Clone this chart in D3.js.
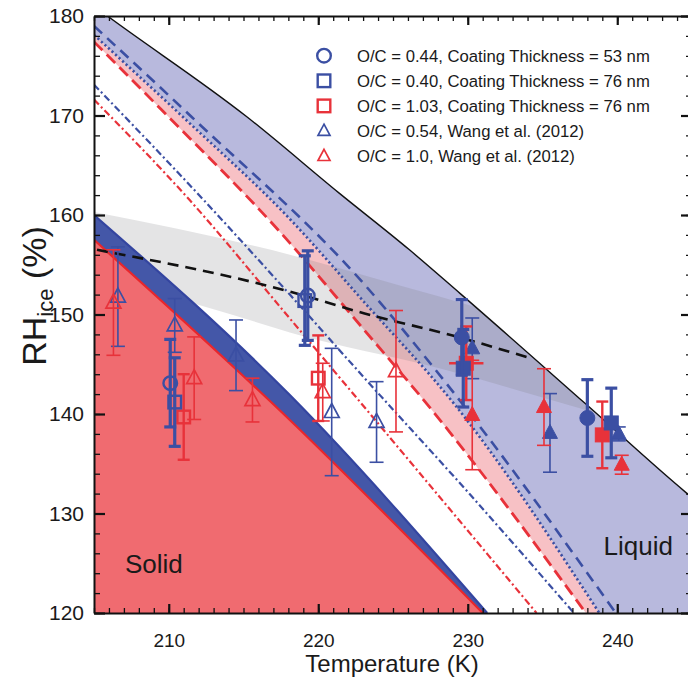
<!DOCTYPE html>
<html><head><meta charset="utf-8">
<script src="https://cdn.jsdelivr.net/npm/d3@7"></script>
<style>
body{margin:0;background:#fff}
svg{display:block}
text{font-family:Arial,"Liberation Sans",Helvetica,sans-serif;fill:#1a1a1a}
</style>
</head><body>
<svg id="c" width="688" height="678"></svg>
<script>
// ---------------- data ----------------
const xTicks = [210, 220, 230, 240];
const yTicks = [120, 130, 140, 150, 160, 170, 180];
const xMinor = d3.range(205, 246, 1);
const yMinor = d3.range(120, 181, 2);

// water saturation (upper limit of liquid region)
const waterSat = [[205.0,181.0],[205.9,180.0],[215.2,169.9],[221.4,162.2],[226.1,156.5],[229.5,152.1],[237.9,141.0],[244.6,132.1],[245.0,131.6]];
// model lines
const blueDashed  = [[205,179.0],[211.5,169.9],[223.1,153.0],[228.5,143.2],[239.9,120]];
const blueDotted  = [[205,178.1],[211.2,169.5],[218.1,159.6],[223.1,151.2],[229.1,141.0],[238.8,120]];
const redDashed   = [[205,177.4],[209.5,170.6],[217.5,158.2],[223.1,148.4],[227.6,140.4],[237.9,120]];
const blueDashDot = [[205,173.1],[212.4,161.4],[218.1,152.0],[223.1,143.6],[230.1,132.0],[237.1,120]];
const redDashDot  = [[205,171.6],[211.4,161.5],[218.1,149.6],[234.6,120]];
// homogeneous freezing line and its uncertainty band
const freezeLine  = [[205.2,156.5],[218.1,152.3],[223.1,150.1],[229.45,147.7],[234.2,145.6]];
const grayUpper   = [[205,160.3],[218.1,156.0],[223.4,153.8],[228.1,151.8],[230.4,150.8],[238,147.3]];
const grayLower   = [[205,154.0],[214.3,149.95],[218.1,148.2],[228.1,144.6],[237.9,140.4],[240,139.5]];
// solid region boundaries
const redSolid  = [[205,157.5],[218.1,139.4],[231.0,120]];
const blueSolid = [[205,160.0],[218.1,141.9],[231.3,120]];

// measurements: [T, RH, error, filled(1/0), T error]
const blueCircle = [[210.1,143.1,4.4,0],[219.3,151.9,4.5,0],[229.6,147.7,3.8,1],[238.0,139.6,3.85,1]];
const blueSquare = [[210.4,141.2,4.45,0],[219.1,151.4,4.5,0],[229.7,144.6,3.9,1],[239.6,139.1,3.5,1]];
const redSquare  = [[211.0,139.7,4.3,0],[220.0,143.6,4.3,0],[229.9,145.1,3.7,1,1.15],[239.0,137.9,3.35,1]];
const blueTri    = [[206.6,151.8,5.0,0],[210.4,148.9,2.7,0],[214.5,145.9,3.55,0],[220.9,140.2,6.4,0],[223.9,139.2,4.05,0],[230.3,146.6,3.05,1],[235.5,138.1,3.95,1],[240.1,138.0,0.7,1]];
const redTri     = [[206.3,151.2,5.3,0],[211.7,143.6,4.15,0],[215.6,141.4,2.2,0],[220.3,142.2,2.9,0],[225.2,144.3,6.1,0],[230.3,139.9,5.5,1],[235.1,140.7,3.85,1],[240.3,134.9,0.95,1]];

const legendLabels = [
  "O/C = 0.44, Coating Thickness = 53 nm",
  "O/C = 0.40, Coating Thickness = 76 nm",
  "O/C = 1.03, Coating Thickness = 76 nm",
  "O/C = 0.54, Wang et al. (2012)",
  "O/C = 1.0, Wang et al. (2012)"
];

// ---------------- drawing ----------------
const BLUE = "#3b4fa3", RED = "#e8323a";
const svg = d3.select("#c");
const x = d3.scaleLinear().domain([205, 245]).range([94, 692]);
const y = d3.scaleLinear().domain([120, 180]).range([613, 16]);

const line = d3.line().x(d => x(d[0])).y(d => y(d[1])).curve(d3.curveMonotoneX);
const band = (a, b) => line(a) + line(b.slice().reverse()).replace(/^M/, "L") + "Z";

const defs = svg.append("defs");
defs.append("clipPath").attr("id", "plot").append("rect")
  .attr("x", x(205)).attr("y", y(180)).attr("width", x(245) - x(205)).attr("height", y(120) - y(180));
defs.append("clipPath").attr("id", "below").append("path")
  .attr("d", line(waterSat) + `L${x(245)},${y(115)}L${x(205)},${y(115)}Z`);

const plot = svg.append("g").attr("clip-path", "url(#plot)");

// liquid region
plot.append("path")
  .attr("d", line(blueDotted) + `L${x(245)},${y(115)}` + line(waterSat.slice().reverse()).replace(/^M/, "L") + "Z")
  .attr("fill", "#b8b9dd");
// pink band
plot.append("path").attr("d", band(blueDotted, redDashed)).attr("fill", "#f7c1c5");
// gray band (clipped below water saturation)
plot.append("g").attr("clip-path", "url(#below)")
  .append("path").attr("d", band(grayUpper, grayLower)).attr("fill", "rgba(120,120,125,0.2)");
// solid region
plot.append("path").attr("d", line(redSolid) + `L${x(205)},${y(115)}L${x(205)},${y(157.5)}Z`).attr("fill", "#f06b70");
plot.append("path").attr("d", band(blueSolid, redSolid)).attr("fill", "#4457a8");
plot.append("path").attr("d", line(redSolid)).attr("fill", "none").attr("stroke", "#e8262c").attr("stroke-width", 2.2);
plot.append("path").attr("d", line(blueSolid)).attr("fill", "none").attr("stroke", "#3445a0").attr("stroke-width", 2.2);

// model lines
const styled = [
  [redDashDot, RED, 2.2, "7,3,2,3"],
  [blueDashDot, BLUE, 2.2, "7,3,2,3"],
  [redDashed, RED, 2.8, "12,6"],
  [blueDotted, BLUE, 2.6, "2.2,2.6"],
  [blueDashed, BLUE, 2.6, "11,7"]
];
styled.forEach(([d, c, w, dash]) => {
  plot.append("path").attr("d", line(d)).attr("fill", "none")
    .attr("stroke", c).attr("stroke-width", w).attr("stroke-dasharray", dash);
});
plot.append("path").attr("d", line(freezeLine)).attr("fill", "none")
  .attr("stroke", "#111").attr("stroke-width", 2.6).attr("stroke-dasharray", "11,7");
plot.append("path").attr("d", line(waterSat)).attr("fill", "none")
  .attr("stroke", "#111").attr("stroke-width", 1.4);

// labels inside plot
svg.append("text").attr("x", x(209)).attr("y", y(124.0)).attr("text-anchor", "middle")
  .attr("font-size", 26).text("Solid");
svg.append("text").attr("x", x(241.4)).attr("y", y(125.8)).attr("text-anchor", "middle")
  .attr("font-size", 26).text("Liquid");

// ---------------- axes ----------------
function styleAxis(g, fs) {
  g.attr("font-family", null).attr("font-size", null);
  g.selectAll("text").attr("font-size", fs).attr("fill", "#1a1a1a");
  g.selectAll("line").attr("stroke", "#111");
  g.select(".domain").attr("stroke", "#111").attr("stroke-width", 2);
}
function minor(g) { g.select(".domain").remove(); g.selectAll("line").attr("stroke", "#111").attr("stroke-width", 1.3); }

const ax = svg.append("g");
ax.append("g").attr("transform", `translate(0,${y(120)})`)
  .call(d3.axisBottom(x).tickValues(xMinor).tickSize(-5).tickFormat("")).call(minor);
ax.append("g").attr("transform", `translate(0,${y(180)})`)
  .call(d3.axisTop(x).tickValues(xMinor).tickSize(-5).tickFormat("")).call(minor);
ax.append("g").attr("transform", `translate(${x(205)},0)`)
  .call(d3.axisLeft(y).tickValues(yMinor).tickSize(-6).tickFormat("")).call(minor);
ax.append("g").attr("transform", `translate(${x(245)},0)`)
  .call(d3.axisRight(y).tickValues(yMinor).tickSize(-6).tickFormat("")).call(minor);

const gB = ax.append("g").attr("transform", `translate(0,${y(120)})`)
  .call(d3.axisBottom(x).tickValues(xTicks).tickSize(-9).tickSizeOuter(0).tickPadding(21).tickFormat(d3.format("d")));
styleAxis(gB, 19); gB.selectAll(".tick line").attr("stroke-width", 2.2);
const gT = ax.append("g").attr("transform", `translate(0,${y(180)})`)
  .call(d3.axisTop(x).tickValues(xTicks).tickSize(-9).tickSizeOuter(0).tickFormat(""));
styleAxis(gT, 19); gT.selectAll(".tick line").attr("stroke-width", 2.2);
const gL = ax.append("g").attr("transform", `translate(${x(205)},0)`)
  .call(d3.axisLeft(y).tickValues(yTicks).tickSize(-11).tickSizeOuter(0).tickPadding(10).tickFormat(d3.format("d")));
styleAxis(gL, 21); gL.selectAll(".tick line").attr("stroke-width", 2.2);
const gR = ax.append("g").attr("transform", `translate(${x(245)},0)`)
  .call(d3.axisRight(y).tickValues(yTicks).tickSize(-11).tickSizeOuter(0).tickFormat(""));
styleAxis(gR, 21); gR.selectAll(".tick line").attr("stroke-width", 2.2);

// axis titles
svg.append("text").attr("x", 392).attr("y", 672).attr("text-anchor", "middle")
  .attr("font-size", 24).text("Temperature (K)");
const yl = svg.append("text").attr("transform", "translate(46,296) rotate(-90)")
  .attr("text-anchor", "middle").attr("font-size", 34);
yl.append("tspan").text("RH");
yl.append("tspan").attr("font-size", 22).attr("dy", 7).text("ice");
yl.append("tspan").attr("dy", -7).text(" (%)");

// ---------------- markers ----------------
function marker(g, type, cx, cy, color, filled, s) {
  s = s || 1;
  let el;
  if (type === "circle") {
    el = g.append("circle").attr("cx", cx).attr("cy", cy).attr("r", (filled ? 7.5 : 6.8) * s);
  } else if (type === "square") {
    const h = (filled ? 7 : 6.3) * s;
    el = g.append("rect").attr("x", cx - h).attr("y", cy - h).attr("width", 2 * h).attr("height", 2 * h);
  } else {
    const w = 7.5 * s, t = 8.5 * s, b = 5.5 * s;
    el = g.append("path").attr("d", `M${cx},${cy - t}L${cx + w},${cy + b}L${cx - w},${cy + b}Z`);
  }
  if (filled) el.attr("fill", color).attr("stroke", color).attr("stroke-width", 1);
  else el.attr("fill", "none").attr("stroke", color).attr("stroke-width", type === "triangle" ? 1.7 : 2.4);
}

const series = [
  [blueTri, "triangle", BLUE, 1.6, 7],
  [redTri, "triangle", RED, 1.6, 7],
  [redSquare, "square", RED, 2.4, 6],
  [blueSquare, "square", BLUE, 3.2, 6],
  [blueCircle, "circle", BLUE, 3.2, 6]
];
const pts = svg.append("g");
series.forEach(([data, type, color, bw, cap]) => {
  data.forEach(d => {
    const cx = x(d[0]), cy = y(d[1]);
    const y0 = y(d[1] - d[2]), y1 = y(d[1] + d[2]);
    const g = pts.append("g").attr("stroke", color).attr("stroke-width", bw);
    g.append("line").attr("x1", cx).attr("x2", cx).attr("y1", y0).attr("y2", y1);
    g.append("line").attr("x1", cx - cap).attr("x2", cx + cap).attr("y1", y0).attr("y2", y0);
    g.append("line").attr("x1", cx - cap).attr("x2", cx + cap).attr("y1", y1).attr("y2", y1);
    if (d[4]) {
      g.append("line").attr("x1", x(d[0] - d[4])).attr("x2", x(d[0] + d[4])).attr("y1", cy).attr("y2", cy);
    }
    marker(pts, type, cx, cy, color, d[3] === 1);
  });
});

// ---------------- legend ----------------
const legTypes = [["circle", BLUE], ["square", BLUE], ["square", RED], ["triangle", BLUE], ["triangle", RED]];
const leg = svg.append("g");
legendLabels.forEach((t, i) => {
  const ly = 55.7 + i * 25.1;
  marker(leg, legTypes[i][0], 324, ly, legTypes[i][1], false, legTypes[i][0] === "triangle" ? 0.8 : 1);
  leg.append("text").attr("x", 357).attr("y", ly).attr("dy", "0.36em")
    .attr("font-size", 16.7).text(t);
});
</script>
</body></html>
